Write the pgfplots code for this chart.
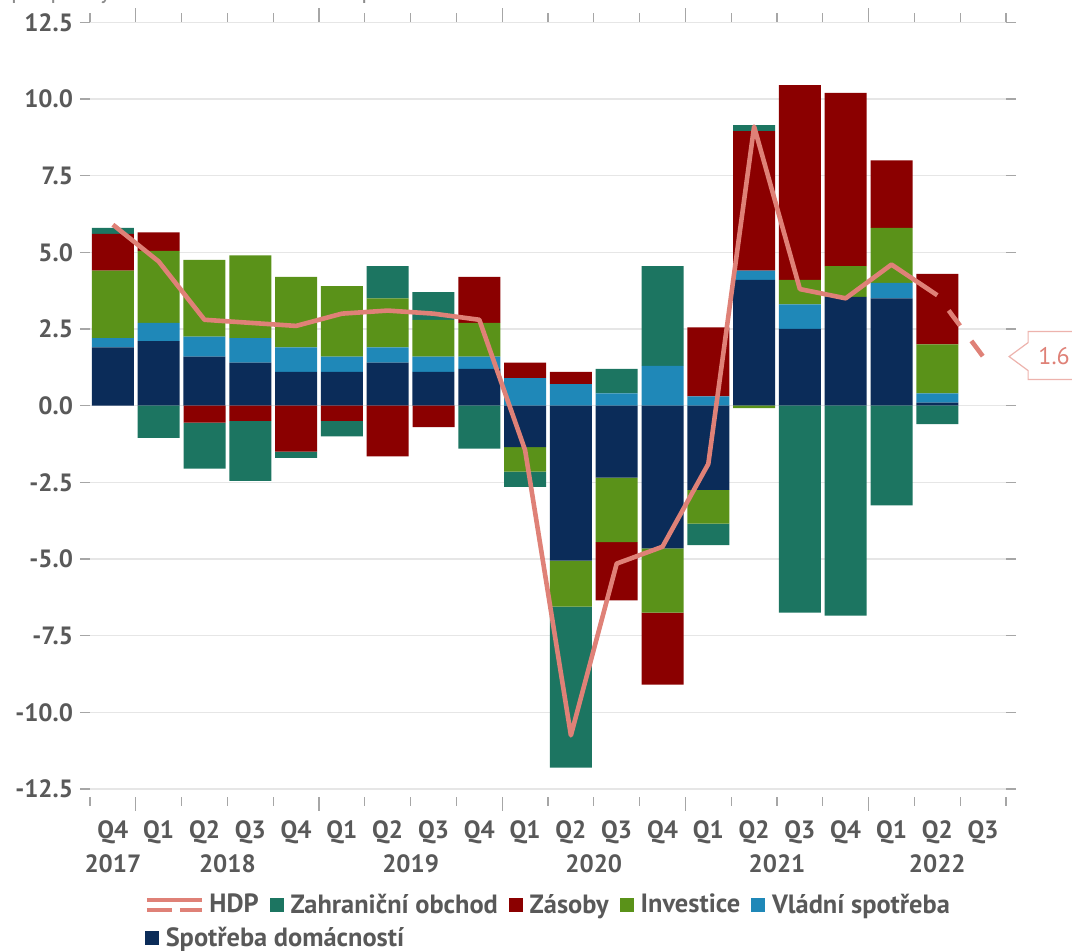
\documentclass[border=0pt]{standalone}
\usepackage{pgfplots}
\pgfplotsset{compat=1.18}
\usepackage{pgfplotstable}
\usepackage{fontspec}
\setmainfont{PT Sans}

\definecolor{hdpc}{HTML}{DF8177}
\definecolor{calloutc}{HTML}{EDB3AD}
\definecolor{zahrc}{HTML}{1C7561}
\definecolor{zasc}{HTML}{8B0000}
\definecolor{invc}{HTML}{5A9219}
\definecolor{vladc}{HTML}{1F88B8}
\definecolor{domc}{HTML}{0B2C59}
\definecolor{txt}{HTML}{595959}
\definecolor{titc}{HTML}{8C8C8C}
\definecolor{gridc}{HTML}{E6E6E6}
\definecolor{tickc}{HTML}{A6A6A6}

\newcommand{\lbl}{\fontsize{12.5}{15}\selectfont\bfseries}
\newcommand{\leg}{\fontsize{13.2}{16}\selectfont\bfseries}

% contributions (percentage points): households, government, investment, inventories, net exports
\pgfplotstableread{
x dom vlad inv zas zahr
0 1.9 0.3 2.2 1.2 0.2
1 2.1 0.6 2.35 0.6 -1.05
2 1.6 0.65 2.5 -0.55 -1.5
3 1.4 0.8 2.7 -0.5 -1.95
4 1.1 0.8 2.3 -1.5 -0.2
5 1.1 0.5 2.3 -0.5 -0.5
6 1.4 0.5 1.6 -1.65 1.05
7 1.1 0.5 1.2 -0.7 0.9
8 1.2 0.4 1.1 1.5 -1.4
9 -1.35 0.9 -0.8 0.5 -0.5
10 -5.05 0.7 -1.5 0.4 -5.25
11 -2.35 0.4 -2.1 -1.9 0.8
12 -4.65 1.3 -2.1 -2.35 3.25
13 -2.75 0.3 -1.1 2.25 -0.7
14 4.1 0.3 -0.08 4.55 0.2
15 2.5 0.8 0.8 6.35 -6.75
16 3.55 0 1.0 5.65 -6.85
17 3.5 0.5 1.8 2.2 -3.25
18 0.1 0.3 1.6 2.3 -0.6
}\contrib

\pgfplotstableread{
x hdp
0 5.9
1 4.7
2 2.8
3 2.7
4 2.6
5 3.0
6 3.1
7 3.0
8 2.8
9 -1.45
10 -10.75
11 -5.15
12 -4.6
13 -1.9
14 9.1
15 3.8
16 3.5
17 4.6
18 3.6
}\hdp

\pgfplotstableread{
x hdp
18 3.6
19 1.6
}\hdpfc

\pgfplotsset{
  base/.style={width=458pt, height=387.2pt, scale only axis,
    xmin=-0.5, xmax=19.5, ymin=-12.75, ymax=12.5,
    at={(45pt,77.15pt)}, anchor=south west, clip=false,
    axis line style={draw=none}, tick align=outside,
    tick label style={font=\lbl, text=txt}},
  barax/.style={base, ybar stacked, bar width=21pt},
}

\begin{document}
\begin{tikzpicture}
% ---- axis 1: positive contributions, grid, y ticks, quarter labels
\begin{axis}[barax,
  ytick={-12.5,-10,-7.5,-5,-2.5,0,2.5,5,7.5,10,12.5},
  /pgf/number format/assume math mode=true,
  yticklabel style={/pgf/number format/fixed, /pgf/number format/fixed zerofill, /pgf/number format/precision=1},
  ymajorgrids, grid style={gridc, line width=0.75pt},
  major tick length=5pt,
  ytick style={tickc, line width=0.6pt},
  xtick={0,...,19},
  xticklabels={Q4,Q1,Q2,Q3,Q4,Q1,Q2,Q3,Q4,Q1,Q2,Q3,Q4,Q1,Q2,Q3,Q4,Q1,Q2,Q3},
  xticklabel style={yshift=-3.5pt},
  major x tick style={draw=none},
  minor xtick={-0.5,0.5,...,19.5},
  minor tick length=4.5pt,
  minor x tick style={tickc, line width=0.6pt},
]
\addplot[forget plot, fill=domc, draw=none] table[x=x, y expr={max(\thisrow{dom},0)}]{\contrib};
\addplot[forget plot, fill=vladc, draw=none] table[x=x, y expr={max(\thisrow{vlad},0)}]{\contrib};
\addplot[forget plot, fill=invc, draw=none] table[x=x, y expr={max(\thisrow{inv},0)}]{\contrib};
\addplot[forget plot, fill=zasc, draw=none] table[x=x, y expr={max(\thisrow{zas},0)}]{\contrib};
\addplot[forget plot, fill=zahrc, draw=none] table[x=x, y expr={max(\thisrow{zahr},0)}]{\contrib};
\end{axis}
% ---- axis 2: negative contributions, year labels, year ticks
\begin{axis}[barax,
  ytick=\empty,
  xtick={0,2.5,6.5,10.5,14.5,18},
  xticklabels={2017,2018,2019,2020,2021,2022},
  major x tick style={draw=none},
  xticklabel style={yshift=-21pt},
  minor xtick={0.5,4.5,8.5,12.5,16.5},
  minor tick length=7pt,
  minor x tick style={tickc, line width=0.6pt},
]
\addplot[forget plot, fill=domc, draw=none] table[x=x, y expr={min(\thisrow{dom},0)}]{\contrib};
\addplot[forget plot, fill=vladc, draw=none] table[x=x, y expr={min(\thisrow{vlad},0)}]{\contrib};
\addplot[forget plot, fill=invc, draw=none] table[x=x, y expr={min(\thisrow{inv},0)}]{\contrib};
\addplot[forget plot, fill=zasc, draw=none] table[x=x, y expr={min(\thisrow{zas},0)}]{\contrib};
\addplot[forget plot, fill=zahrc, draw=none] table[x=x, y expr={min(\thisrow{zahr},0)}]{\contrib};
\end{axis}
% ---- axis 3: GDP line, callout, legend row 1
\begin{axis}[base, hide axis,
  legend columns=-1,
  legend style={draw=none, fill=none, at={(0.060,-0.1399)}, anchor=west,
    font=\leg, text=txt, inner sep=0pt, outer sep=0pt, column sep=0pt,
    nodes={inner sep=0pt},
    /tikz/every even column/.append style={column sep=5.5pt}},
]
\addplot[forget plot, hdpc, line width=2.3pt, line join=round] table[x=x,y=hdp]{\hdp};
\addplot[forget plot, hdpc, line width=2.3pt, dash pattern=on 9.5pt off 9.5pt, dash phase=9.5pt] table[x=x,y=hdp]{\hdpfc};
\draw[calloutc, line width=0.6pt, fill=white] ([xshift=13pt]axis cs:19,1.6) -- ++(9.5pt,7pt) -- ++(0pt,5.5pt) -- ++(30.5pt,0pt) -- ++(0pt,-24pt) -- ++(-30.5pt,0pt) -- ++(0pt,4.5pt) -- cycle;
\node[text=hdpc, font=\fontsize{12}{14}\selectfont, anchor=center] at ([xshift=35.5pt]axis cs:19,1.6) {1.6};
\addlegendimage{legend image code/.code={
  \draw[hdpc, line width=2pt] (0pt,2.6pt) -- (27.5pt,2.6pt);
  \draw[hdpc, line width=2pt, dash pattern=on 12.5pt off 4pt] (0pt,-2.6pt) -- (27.5pt,-2.6pt);
  \path (31pt,0pt);}}
\addlegendentry{HDP}
\addlegendimage{legend image code/.code={\fill[zahrc] (0pt,-3.25pt) rectangle (6.5pt,3.25pt); \path (10pt,0pt);}}
\addlegendentry{Zahraniční obchod}
\addlegendimage{legend image code/.code={\fill[zasc] (0pt,-3.25pt) rectangle (6.5pt,3.25pt); \path (10pt,0pt);}}
\addlegendentry{Zásoby}
\addlegendimage{legend image code/.code={\fill[invc] (0pt,-3.25pt) rectangle (6.5pt,3.25pt); \path (10pt,0pt);}}
\addlegendentry{Investice}
\addlegendimage{legend image code/.code={\fill[vladc] (0pt,-3.25pt) rectangle (6.5pt,3.25pt); \path (10pt,0pt);}}
\addlegendentry{Vládní spotřeba}
\end{axis}
% ---- axis 4: legend row 2
\begin{axis}[base, hide axis,
  legend style={draw=none, fill=none, at={(0.060,-0.1825)}, anchor=west,
    font=\leg, text=txt, inner sep=0pt, outer sep=0pt,
    nodes={inner sep=0pt}},
]
\addlegendimage{legend image code/.code={\fill[domc] (0pt,-3.25pt) rectangle (6.5pt,3.25pt); \path (10pt,0pt);}}
\addlegendentry{Spotřeba domácností}
\end{axis}
\node[anchor=base west, text=titc, font=\fontsize{12.5}{15}\selectfont] at (2pt,476pt) {příspěvky k meziročnímu růstu v procentních bodech};
\pgfresetboundingbox
\path[use as bounding box] (0pt,0pt) rectangle (536pt,475.5pt);
\end{tikzpicture}
\end{document}
